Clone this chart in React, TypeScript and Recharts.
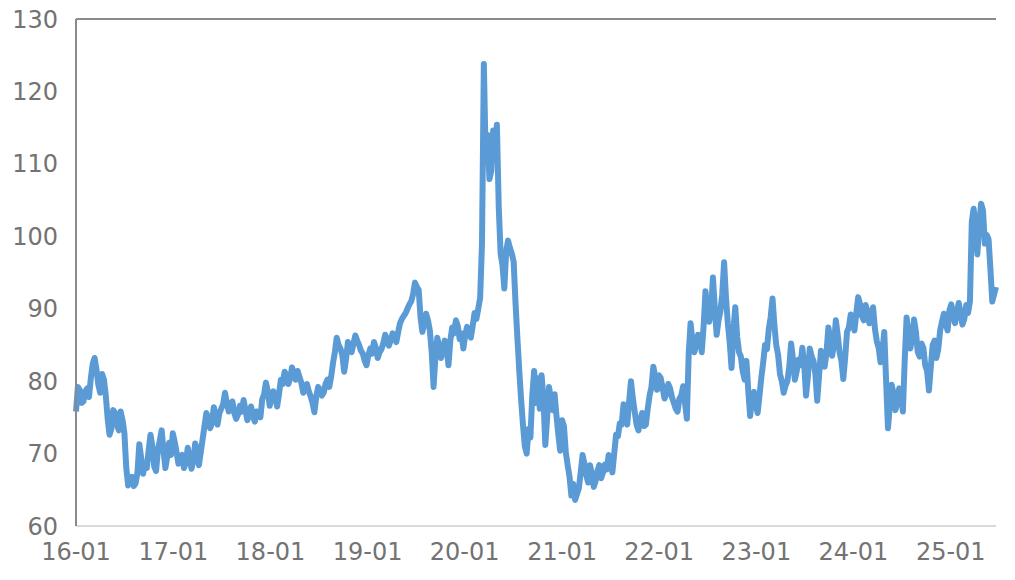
import { LineChart, Line, XAxis, YAxis, ReferenceLine } from 'recharts'

// weekly closes, first point on startDate
const startDate = '2016-01-01'
const stepDays = 7

const v2016 = [75.8, 79.2, 78.8, 77.0, 77.2, 78.6, 79.0, 77.8, 80.5, 82.4, 83.2, 81.6, 79.5, 78.4, 81.0, 80.2, 78.0, 74.8, 72.6, 73.4, 76.0, 75.6, 74.0, 73.2, 75.8, 74.6, 72.8, 68.0, 65.6, 66.2, 66.8, 65.5, 65.9, 67.4, 71.3, 69.4, 67.2, 68.6, 68.0, 70.4, 72.6, 71.0, 68.2, 67.6, 70.5, 71.8, 73.2, 70.4, 68.0, 69.6, 71.5, 69.8]
const v2017 = [72.8, 71.6, 70.2, 68.6, 69.5, 69.8, 68.0, 68.8, 70.8, 69.4, 67.9, 69.0, 71.4, 70.6, 68.4, 70.2, 72.0, 73.8, 75.6, 74.8, 73.5, 74.2, 76.4, 75.2, 74.0, 75.6, 76.2, 76.8, 78.4, 77.0, 75.8, 76.8, 77.2, 75.6, 74.8, 75.4, 76.6, 75.8, 77.4, 76.0, 74.6, 75.4, 76.5, 75.2, 74.4, 75.8, 75.6, 75.0, 77.5, 78.2, 79.8, 78.6]
const v2018 = [76.6, 77.8, 78.6, 77.6, 76.5, 78.2, 80.2, 79.6, 81.3, 80.8, 79.6, 80.4, 81.9, 80.8, 80.2, 81.4, 80.6, 79.8, 78.4, 79.0, 79.6, 78.6, 77.9, 77.0, 75.7, 77.8, 79.2, 78.8, 78.0, 78.4, 79.6, 80.2, 79.2, 80.6, 82.5, 84.0, 86.0, 85.0, 84.5, 83.6, 81.3, 83.0, 85.4, 84.8, 84.0, 85.2, 86.3, 85.6, 85.0, 84.2, 83.8, 82.8]
const v2019 = [82.2, 83.6, 84.5, 83.8, 85.4, 84.6, 83.2, 84.0, 84.4, 85.2, 86.4, 85.8, 84.9, 85.6, 86.6, 86.0, 85.4, 86.8, 88.0, 88.6, 89.0, 89.4, 90.0, 90.6, 91.0, 92.0, 93.6, 93.0, 92.6, 88.8, 86.8, 88.0, 89.3, 88.4, 87.0, 84.0, 79.2, 83.4, 86.0, 84.8, 83.2, 84.2, 85.6, 84.6, 82.2, 85.6, 87.4, 86.6, 88.4, 87.6, 85.8, 86.6]
const v2020 = [84.5, 86.4, 87.5, 86.8, 86.0, 87.6, 89.4, 88.6, 90.0, 91.5, 99.0, 123.8, 110.5, 114.0, 107.9, 109.0, 114.6, 112.0, 115.4, 104.0, 97.6, 96.0, 92.8, 98.0, 99.4, 98.4, 97.6, 96.5, 90.8, 86.0, 81.5, 77.5, 74.0, 71.0, 70.0, 73.4, 72.2, 78.0, 81.4, 77.0, 80.4, 76.2, 80.8, 77.6, 71.2, 75.0, 79.2, 77.4, 76.0, 78.2, 75.2, 72.6]
const v2021 = [70.4, 74.6, 73.8, 70.2, 68.4, 66.8, 64.2, 65.8, 63.6, 64.4, 65.2, 67.4, 69.8, 68.6, 67.0, 66.0, 68.4, 67.2, 65.4, 66.2, 67.6, 68.4, 66.6, 67.4, 68.5, 67.8, 69.8, 69.0, 67.4, 70.0, 72.6, 72.4, 74.2, 74.0, 76.8, 75.6, 74.0, 77.2, 80.0, 77.6, 75.8, 74.0, 73.2, 74.6, 75.6, 73.8, 74.0, 76.2, 78.0, 79.2, 82.0, 80.6]
const v2022 = [78.8, 80.8, 80.4, 79.0, 77.6, 78.2, 79.6, 79.0, 77.8, 77.0, 76.2, 75.8, 77.6, 78.0, 79.3, 77.0, 74.8, 83.8, 88.0, 85.6, 84.0, 85.0, 86.4, 85.8, 84.0, 87.6, 92.4, 90.0, 88.2, 89.6, 94.3, 90.2, 86.4, 88.4, 89.6, 92.0, 96.4, 91.6, 88.0, 85.4, 81.8, 87.0, 90.2, 86.2, 84.0, 83.4, 81.4, 80.2, 82.8, 78.6, 75.2, 77.6]
const v2023 = [78.5, 76.8, 75.6, 78.0, 80.5, 82.6, 85.0, 84.4, 87.2, 88.8, 91.4, 87.8, 85.0, 83.6, 81.0, 80.0, 78.4, 79.4, 80.0, 82.0, 85.2, 83.0, 80.2, 81.4, 83.0, 82.2, 84.6, 82.4, 78.0, 80.6, 84.5, 83.4, 82.8, 81.0, 77.3, 80.8, 84.2, 83.0, 82.0, 84.0, 87.4, 85.6, 83.5, 85.0, 88.4, 86.4, 84.0, 82.8, 80.3, 83.2, 86.8, 87.4]
const v2024 = [89.2, 88.6, 87.0, 89.4, 91.6, 90.6, 89.0, 88.4, 90.5, 89.6, 88.0, 88.6, 90.2, 87.2, 85.5, 84.6, 82.6, 84.0, 86.8, 80.0, 73.5, 76.6, 79.5, 78.2, 76.0, 77.0, 79.0, 78.4, 75.8, 83.0, 88.8, 86.4, 84.5, 86.0, 88.5, 86.8, 84.0, 83.4, 85.2, 84.6, 82.2, 81.4, 78.7, 82.0, 85.0, 85.6, 83.2, 84.4, 87.0, 88.2, 89.3, 88.0]
const v2025 = [87.0, 89.8, 90.6, 89.0, 88.0, 89.6, 90.8, 89.2, 87.8, 88.6, 90.5, 89.4, 91.0, 102.0, 103.8, 101.0, 97.5, 101.8, 104.5, 103.6, 99.0, 100.2, 99.6, 95.5, 91.0, 92.0, 93.0]

const tickYears = [2016, 2017, 2018, 2019, 2020, 2021, 2022, 2023, 2024, 2025]
const yTicks = [60, 70, 80, 90, 100, 110, 120, 130]

const DAY = 86400000
const start = Date.parse(startDate)
const values = [...v2016, ...v2017, ...v2018, ...v2019, ...v2020, ...v2021, ...v2022, ...v2023, ...v2024, ...v2025]
const data = values.map((v, i) => ({ t: start + i * stepDays * DAY, v }))
const xTicks = tickYears.map((y) => Date.UTC(y, 0, 1))

const fmtTick = (t: number) => `${String(new Date(t).getUTCFullYear()).slice(2)}-01`

const tickStyle = { fill: '#737373', fontSize: 24, fontFamily: 'DejaVu Sans' }

export default function App() {
  return (
    <div style={{ marginTop: -8 }}>
      <LineChart width={999} height={572} data={data} margin={{ top: 19, right: 11, left: 0, bottom: 0 }}>
        <XAxis
          dataKey="t"
          type="number"
          domain={['dataMin', 'dataMax']}
          ticks={xTicks}
          interval={0}
          tickFormatter={fmtTick}
          axisLine={{ stroke: '#d9d9d9', strokeWidth: 2 }}
          tickLine={false}
          tickSize={0}
          tickMargin={17}
          tick={tickStyle}
          height={46}
        />
        <YAxis
          domain={[60, 130]}
          ticks={yTicks}
          interval={0}
          axisLine={{ stroke: '#8a8a8a', strokeWidth: 2 }}
          tickLine={false}
          tickSize={0}
          tickMargin={18}
          tick={tickStyle}
          width={68}
        />
        <YAxis
          yAxisId="r"
          orientation="right"
          width={0}
          tick={false}
          tickLine={false}
          axisLine={{ stroke: '#8a8a8a', strokeWidth: 2 }}
        />
        <ReferenceLine y={130} stroke="#8a8a8a" strokeWidth={2} />
        <Line
          type="linear"
          dataKey="v"
          stroke="#5b9bd5"
          strokeWidth={6}
          strokeLinejoin="round"
          dot={false}
          isAnimationActive={false}
        />
      </LineChart>
    </div>
  )
}
